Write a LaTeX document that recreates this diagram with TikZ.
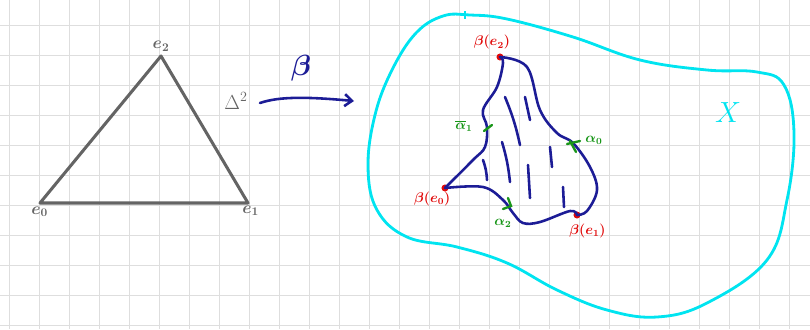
\documentclass[tikz,border=0pt]{standalone}
\usepackage{tikz}
\usetikzlibrary{arrows.meta,positioning}
\definecolor{gridgray}{RGB}{222,222,222}
\definecolor{simplexgray}{RGB}{100,100,100}
\definecolor{inknavy}{RGB}{28,28,150}
\definecolor{inkred}{RGB}{225,10,10}
\definecolor{inkgreen}{RGB}{25,150,25}
\definecolor{inkcyan}{RGB}{0,228,240}
\tikzset{
  gridline/.style={draw=gridgray, line width=0.8pt},
  simplexedge/.style={draw=simplexgray, line width=2.6pt, line join=round},
  vlabel/.style={text=simplexgray, inner sep=1pt, font=\Large\boldmath},
  navyline/.style={draw=inknavy, line width=2.2pt, line cap=round, line join=round},
  hatchline/.style={draw=inknavy, line width=2.2pt, line cap=round},
  spaceline/.style={draw=inkcyan, line width=2.4pt, line join=round},
  redlabel/.style={text=inkred, inner sep=1pt, font=\large\boldmath},
  greenlabel/.style={text=inkgreen, inner sep=1pt, font=\large\boldmath},
  greentick/.style={draw=inkgreen, line width=2pt, line cap=round},
  dotpt/.style={circle, fill=inkred, inner sep=0pt, minimum size=6pt},
  maparrow/.style={-{Straight Barb[length=2.2mm, width=3.6mm]}, draw=inknavy, line width=2.2pt, line cap=round},
}

\begin{document}
\begin{tikzpicture}[x=0.03cm, y=-0.03cm, node distance=2pt]
    \useasboundingbox (0,0) rectangle (810,329);
    % squared paper
    \foreach \gx in {9,39,...,789}
      \draw[gridline] (\gx,0) -- (\gx,329);
    \foreach \gy in {25,55,...,325}
      \draw[gridline] (0,\gy) -- (810,\gy);

    % standard 2-simplex
    \coordinate (e0) at (40,203);
    \coordinate (e1) at (248,203);
    \coordinate (e2) at (161,56);
    \draw[simplexedge] (e0) -- (e1) -- (e2) -- cycle;
    \node[vlabel, above=3pt of e2] (le2) {$e_2$};
    \node[vlabel, below left=2pt and -8pt of e0] (le0) {$e_0$};
    \node[vlabel, below right=1pt and -6pt of e1] (le1) {$e_1$};
    \node[vlabel, font=\LARGE] (delta) at (236,101) {$\Delta^{2}$};

    % the map beta
    \coordinate (mapstart) at (260,103);
    \coordinate (mapend) at (354,101);
    \draw[maparrow] (mapstart) .. controls (280,96) and (310,97) .. (mapend);
    \node[text=inknavy, font=\fontsize{24}{24}\selectfont\boldmath] (betalabel) at (301,68) {$\beta$};

    % the space X
    \draw[spaceline] plot[smooth cycle, tension=0.65] coordinates {
      (470,15) (507,19) (573,37) (640,60) (707,70) (757,72) (784,85)
      (794,133) (787,200) (767,260) (707,303) (657,317) (607,310)
      (557,290) (507,263) (457,247) (407,237) (377,210) (368,167)
      (375,115) (392,70) (416,33) (443,16)};
    \draw[spaceline, line width=1.6pt] (465,11) -- (465,19);
    \node[text=inkcyan, font=\fontsize{36}{36}\selectfont] (xlabel) at (728,113) {$X$};

    % image of the simplex
    \node[dotpt] (be2) at (500,57) {};
    \node[dotpt] (be1) at (577,215) {};
    \node[dotpt] (be0) at (445,188) {};
    \draw[navyline] plot[smooth, tension=0.6] coordinates {
      (be2.center) (527,67) (540,110) (557,133) (573,143) (590,167)
      (597,190) (587,211) (be1.center)};
    \draw[navyline] plot[smooth, tension=0.6] coordinates {
      (be1.center) (570,211) (540,222) (523,223) (513,213) (503,200)
      (483,187) (be0.center)};
    \draw[navyline] plot[smooth, tension=0.6] coordinates {
      (be0.center) (473,160) (485,147) (487,127) (483,110) (497,87)
      (503,63) (be2.center)};
    % hatching
    \draw[hatchline] (505,97) to[bend left=5] (520,145);
    \draw[hatchline] (525,97) -- (530,120);
    \draw[hatchline] (502,142) to[bend left=5] (510,182);
    \draw[hatchline] (483,160) to[bend left=8] (487,180);
    \draw[hatchline] (528,165) -- (530,198);
    \draw[hatchline] (550,147) -- (552,167);
    \draw[hatchline] (563,187) -- (564,207);

    % vertex and edge labels
    \node[redlabel, above left=3pt and -12pt of be2] (lbe2) {$\beta(e_2)$};
    \node[redlabel, below left=0pt and -8pt of be0] (lbe0) {$\beta(e_0)$};
    \node[redlabel, below right=4pt and -10pt of be1] (lbe1) {$\beta(e_1)$};
    \draw[greentick] (484,131) -- (492,125);
    \node[greenlabel] (la1) at (464,126) {$\overline{\alpha}_1$};
    \draw[greentick] (570,141) -- (576,152);
    \draw[greentick] (567,144) -- (580,141);
    \node[greenlabel] (la0) at (594,140) {$\alpha_0$};
    \draw[greentick] (508,198) -- (511,206) -- (503,209);
    \node[greenlabel] (la2) at (503,223) {$\alpha_2$};
\end{tikzpicture}
\end{document}
